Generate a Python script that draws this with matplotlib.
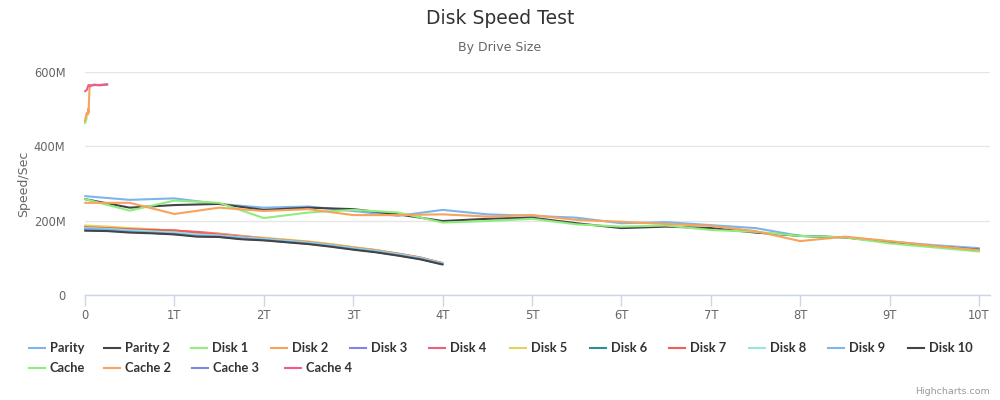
import matplotlib
matplotlib.use("Agg")
import matplotlib.pyplot as plt
from matplotlib.lines import Line2D
from matplotlib.ticker import FixedLocator, FuncFormatter
from matplotlib import font_manager

# ---------------- data (speed in MB/s, position in TB) ----------------
x_full = [0, 0.5, 1, 1.5, 2, 2.5, 3, 3.5, 4, 4.5, 5, 5.5, 6, 6.5, 7, 7.5, 8, 8.5, 9, 9.5, 10]
parity = [266, 256, 260, 245, 235, 238, 226, 213, 229, 217, 213, 208, 193, 196, 188, 180, 159, 155, 144, 134, 126]
parity2 = [258, 235, 242, 245, 229, 235, 231, 217, 199, 205, 208, 193, 180, 184, 180, 168, 159, 155, 142, 131, 122]
disk1 = [258, 227, 254, 248, 207, 222, 229, 222, 195, 199, 205, 190, 184, 187, 175, 170, 159, 155, 139, 128, 117]
disk2 = [248, 248, 218, 235, 226, 231, 215, 215, 217, 211, 215, 202, 197, 191, 186, 172, 145, 157, 145, 132, 121]

x_small = [0, 0.25, 0.5, 0.75, 1, 1.25, 1.5, 1.75, 2, 2.25, 2.5, 2.75, 3, 3.25, 3.5, 3.75, 4]
disk3 = [179, 177, 173, 170, 167, 162, 159, 153, 150, 145, 140, 133, 125, 118, 109, 99, 84]
disk4 = [183, 181, 178, 176, 173, 170, 165, 159, 153, 148, 143, 136, 128, 121, 111, 100, 85]
disk5 = [187, 184, 180, 177, 172, 167, 164, 158, 154, 149, 144, 137, 129, 121, 112, 101, 85]
disk6 = [176, 174, 170, 167, 164, 159, 157, 151, 148, 143, 138, 131, 123, 116, 107, 97, 83]
disk7 = [182, 180, 177, 175, 174, 168, 163, 157, 152, 147, 142, 135, 127, 120, 111, 101, 86]
disk8 = [180, 178, 174, 171, 168, 163, 160, 155, 151, 146, 141, 134, 126, 119, 110, 100, 85]
disk9 = [178, 176, 171, 168, 165, 160, 158, 153, 149, 144, 139, 132, 124, 117, 108, 98, 84]
disk10 = [173, 172, 168, 166, 163, 157, 156, 150, 147, 142, 137, 130, 122, 115, 106, 96, 82]

cache_x = [0, 0.01, 0.02]
cache = [462, 470, 478]
cache2_x = [0, 0.01, 0.02, 0.03, 0.035, 0.04, 0.05, 0.06]
cache2 = [468, 480, 490, 485, 500, 490, 555, 562]
cache3_x = [0.04, 0.08, 0.12, 0.16, 0.2, 0.25]
cache3 = [563, 564, 565, 564, 565, 566]
cache4_x = [0, 0.02, 0.04, 0.06, 0.1, 0.15, 0.2, 0.25]
cache4 = [548, 552, 565, 563, 566, 565, 566, 567]

series_names = ["Parity", "Parity 2", "Disk 1", "Disk 2", "Disk 3", "Disk 4", "Disk 5",
                "Disk 6", "Disk 7", "Disk 8", "Disk 9", "Disk 10",
                "Cache", "Cache 2", "Cache 3", "Cache 4"]
series_x = [x_full, x_full, x_full, x_full, x_small, x_small, x_small, x_small, x_small,
            x_small, x_small, x_small, cache_x, cache2_x, cache3_x, cache4_x]
series_y = [parity, parity2, disk1, disk2, disk3, disk4, disk5, disk6, disk7, disk8,
            disk9, disk10, cache, cache2, cache3, cache4]

palette = ["#7cb5ec", "#434348", "#90ed7d", "#f7a35c", "#8085e9", "#f15c80",
           "#e4d354", "#2b908f", "#f45b5b", "#91e8e1"]

y_ticks = [0, 200, 400, 600]
x_ticks = [0, 1, 2, 3, 4, 5, 6, 7, 8, 9, 10]

title = "Disk Speed Test"
subtitle = "By Drive Size"
y_label = "Speed/Sec"
credit = "Highcharts.com"

# ---------------- figure ----------------
W, H = 1000, 400
fig = plt.figure(figsize=(W / 100, H / 100), dpi=100)
fig.patch.set_facecolor("white")

def fx(px):
    return px / W

def fy(py):
    return 1 - py / H

left_px, right_px, top_px, bot_px = 85, 990, 72, 295
ax = fig.add_axes([fx(left_px), fy(bot_px), fx(right_px - left_px), (bot_px - top_px) / H])
ax.set_xlim(0, (right_px - left_px) / 89.4)
ax.set_ylim(0, 600)

colors = [palette[i % len(palette)] for i in range(len(series_names))]
for i, (name, xs, ys) in enumerate(zip(series_names, series_x, series_y)):
    ax.plot(xs, ys, color=colors[i], lw=1.5, solid_joinstyle="round",
            solid_capstyle="round", zorder=3 + i, clip_on=False)

# axes styling
for s in ["top", "right", "left"]:
    ax.spines[s].set_visible(False)
ax.spines["bottom"].set_color("#ccd6eb")
ax.spines["bottom"].set_linewidth(1)
ax.yaxis.set_major_locator(FixedLocator(y_ticks))
ax.xaxis.set_major_locator(FixedLocator(x_ticks))
ax.yaxis.set_major_formatter(FuncFormatter(lambda v, p: "0" if v == 0 else f"{int(v)}M"))
ax.xaxis.set_major_formatter(FuncFormatter(lambda v, p: "0" if v == 0 else f"{int(v)}T"))
ax.grid(axis="y", color="#e6e6e6", lw=1)
ax.set_axisbelow(True)
ax.tick_params(axis="y", length=0, pad=14, labelsize=8.3, labelcolor="#666666")
ax.tick_params(axis="x", length=8, width=1, color="#ccd6eb", pad=2,
               labelsize=8.3, labelcolor="#666666")
ax.set_ylabel(y_label, color="#666666", fontsize=9, labelpad=3)

fig.text(0.5, fy(18), title, ha="center", va="center", fontsize=13.5, color="#333333")
fig.text(0.5, fy(47), subtitle, ha="center", va="center", fontsize=9, color="#666666")
fig.text(fx(990), fy(392), credit, ha="right", va="center", fontsize=6.8, color="#999999")

# ---------------- legend (Highcharts-like layout) ----------------
installed = {f.name for f in font_manager.fontManager.ttflist}
leg_family = "Liberation Sans Narrow" if "Liberation Sans Narrow" in installed else "Lato"
leg_font = dict(fontsize=9.3, fontweight="bold", color="#333333", family=leg_family)
row1_x = [29, 104, 191, 271, 350, 429, 510, 590, 669, 749, 828, 908]
row2_x = [29, 104, 192, 285]
item_pos = [(x, 348) for x in row1_x] + [(x, 368) for x in row2_x]
for i, name in enumerate(series_names):
    px, py = item_pos[i]
    fig.add_artist(Line2D([fx(px), fx(px + 16)], [fy(py), fy(py)],
                          transform=fig.transFigure, color=colors[i], lw=1.5))
    fig.text(fx(px + 21), fy(py), name, ha="left", va="center", **leg_font)

fig.savefig("out.png", dpi=100, facecolor="white")
